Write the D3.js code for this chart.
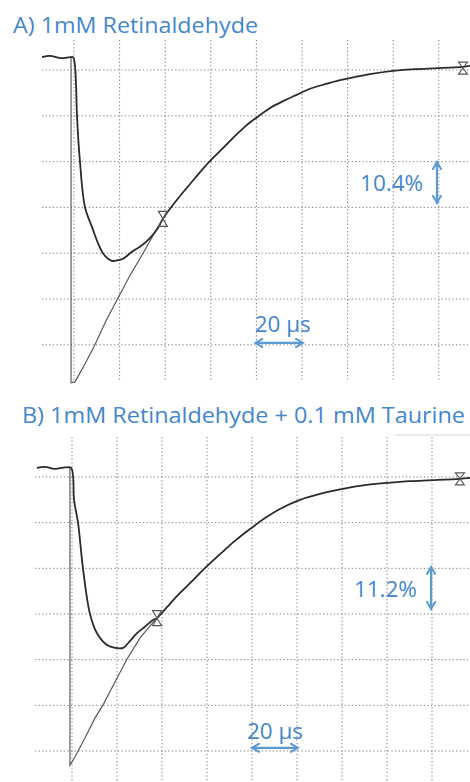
<!DOCTYPE html>
<html>
<head>
<meta charset="utf-8">
<script src="https://cdn.jsdelivr.net/npm/d3@7"></script>
<style>
  html, body { margin: 0; padding: 0; background: #fff; }
  svg { display: block; }
</style>
</head>
<body>
<svg id="chart" width="470" height="782"></svg>
<script>
// ---------- data (time in µs, signal in oscilloscope divisions) ----------
const gridTimes = [0, 20, 40, 60, 80, 100, 120, 140, 160];
const gridLevels = [0, -1, -2, -3, -4, -5, -6];

const titleA = "A) 1mM Retinaldehyde";
const titleB = "B) 1mM Retinaldehyde + 0.1 mM Taurine";
const ampLabelA = "10.4%";
const ampLabelB = "11.2%";
const timeLabel = "20 µs";

const signalA = [
  [-14.0,0.28],[-10.5,0.31],[-6.1,0.26],[-1.7,0.28],[-0.4,0.28],[0.4,0.10],[0.9,-0.33],
  [1.3,-0.98],[2.6,-1.99],[4.8,-2.99],[7.9,-3.43],[10.5,-3.78],[12.7,-4.0],[14.9,-4.12],
  [17.1,-4.17],[19.3,-4.15],[21.5,-4.12],[25.9,-3.95],[28.9,-3.86],[33.3,-3.67],
  [36.8,-3.45],[39.0,-3.25],[42.1,-3.03],[46.5,-2.75],[50.9,-2.49],[55.3,-2.23],
  [59.6,-1.99],[64.9,-1.73],[70.2,-1.46],[75.4,-1.22],[80.3,-1.03],[86.0,-0.83],
  [91.7,-0.68],[97.4,-0.55],[103.5,-0.41],[110.1,-0.31],[116.7,-0.22],[123.3,-0.15],
  [129.8,-0.09],[139.9,-0.02],[149.6,0.02],[159.6,0.04],[170.6,0.07],[173.7,0.09]
];
const fitA = [
  [-1.3,0.28],[-1.3,-6.83],[0.44,-6.81],[4.8,-6.42],[9.2,-6.0],[14.0,-5.48],[19.3,-4.98],
  [24.6,-4.48],[30.3,-4.0],[34.6,-3.62],[39.0,-3.25]
];
const markersA = [[39.0,-3.25],[170.6,0.04]];
const ampArrowA = [[159.2,-2.03],[159.2,-2.88]];
const ampTextA = [153.1,-2.64];
const timeArrowA = [[80.0,-5.96],[100.0,-5.96]];
const timeTextA = [79.3,-5.72];

const signalB = [
  [-15.6,0.20],[-12.0,0.22],[-7.6,0.18],[-3.1,0.21],[-0.4,0.20],[0.5,0.0],[0.9,-0.5],
  [2.7,-1.01],[4.9,-2.01],[8.0,-3.0],[11.1,-3.42],[15.6,-3.68],[19.1,-3.74],[22.7,-3.74],
  [25.8,-3.59],[28.9,-3.42],[32.4,-3.28],[36.0,-3.13],[37.8,-3.09],[42.2,-2.85],
  [48.0,-2.54],[53.8,-2.26],[59.6,-1.97],[65.8,-1.69],[72.4,-1.40],[79.1,-1.14],
  [85.8,-0.90],[92.4,-0.70],[101.3,-0.50],[110.2,-0.37],[120.4,-0.26],[130.2,-0.18],
  [140.0,-0.13],[150.2,-0.09],[160.0,-0.07],[172.4,-0.04],[176.9,-0.02]
];
const fitB = [
  [-0.9,0.20],[-0.9,-6.31],[1.3,-6.13],[5.8,-5.71],[10.2,-5.28],[13.8,-4.99],[19.1,-4.49],
  [24.4,-3.99],[30.2,-3.53],[34.7,-3.26],[37.8,-3.09]
];
const markersB = [[37.8,-3.09],[172.4,-0.04]];
const ampArrowB = [[159.6,-1.99],[159.6,-2.87]];
const ampTextB = [153.3,-2.63];
const timeArrowB = [[80.4,-5.93],[100.0,-5.93]];
const timeTextB = [77.8,-5.74];

// ---------- drawing ----------
const svg = d3.select("#chart");
const BLUE = "#4387cf";
const ARROW = "#5b9bd5";
const FONT = "'Open Sans', 'Noto Sans', sans-serif";

const defs = svg.append("defs");
defs.append("marker").attr("id", "ah").attr("viewBox", "0 0 10 10")
  .attr("refX", 7).attr("refY", 5).attr("markerWidth", 4.6).attr("markerHeight", 4.6)
  .attr("orient", "auto-start-reverse")
  .append("path").attr("d", "M1,1 L8,5 L1,9").attr("fill", "none")
  .attr("stroke", ARROW).attr("stroke-width", 2).attr("stroke-linecap", "round");

function sizeText(sel, target) {
  sel.attr("textLength", target).attr("lengthAdjust", "spacingAndGlyphs");
}

function panel(cfg) {
  const x = d3.scaleLinear().domain([0, 160]).range(cfg.xr);
  const y = d3.scaleLinear().domain([0, -6]).range(cfg.yr);
  const g = svg.append("g");

  // grid
  g.selectAll(".vg").data(gridTimes).join("line")
    .attr("x1", d => x(d)).attr("x2", d => x(d))
    .attr("y1", cfg.gridTop).attr("y2", cfg.gridBottom)
    .attr("stroke", "#808080").attr("stroke-width", 1).attr("stroke-dasharray", "1.3,2.3");
  g.selectAll(".hg").data(gridLevels).join("line")
    .attr("x1", cfg.gridLeft).attr("x2", 470)
    .attr("y1", d => y(d)).attr("y2", d => y(d))
    .attr("stroke", "#808080").attr("stroke-width", 1).attr("stroke-dasharray", "1.3,2.3");

  // fit
  g.append("path").datum(cfg.fit)
    .attr("d", d3.line().x(d => x(d[0])).y(d => y(d[1])).curve(d3.curveLinear))
    .attr("fill", "none").attr("stroke", "#555").attr("stroke-width", 1.15);
  // signal
  g.append("path").datum(cfg.signal)
    .attr("d", d3.line().x(d => x(d[0])).y(d => y(d[1])).curve(d3.curveCatmullRom.alpha(0.5)))
    .attr("fill", "none").attr("stroke", "#2b2b2b").attr("stroke-width", 1.8)
    .attr("stroke-linejoin", "round");

  // hourglass markers
  g.selectAll(".mk").data(cfg.markers).join("path")
    .attr("d", (d, i) => {
      const cx = x(d[0]), cy = y(d[1]);
      const w = 4.5, h = i === 0 ? 7.5 : 6;
      return `M${cx - w},${cy - h}L${cx + w},${cy - h}L${cx - w},${cy + h}L${cx + w},${cy + h}Z`;
    })
    .attr("fill", "none").attr("stroke", "#555").attr("stroke-width", 1.1);

  // title
  const t = svg.append("text").attr("x", cfg.titlePos[0]).attr("y", cfg.titlePos[1])
    .attr("font-family", FONT).attr("font-size", 22).attr("fill", BLUE).text(cfg.title);
  sizeText(t, cfg.titleWidth);

  // amplitude annotation
  g.append("line")
    .attr("x1", x(cfg.ampArrow[0][0])).attr("y1", y(cfg.ampArrow[0][1]))
    .attr("x2", x(cfg.ampArrow[1][0])).attr("y2", y(cfg.ampArrow[1][1]))
    .attr("stroke", ARROW).attr("stroke-width", 2.2)
    .attr("marker-start", "url(#ah)").attr("marker-end", "url(#ah)");
  const at = g.append("text").attr("x", x(cfg.ampText[0]) - 63).attr("y", y(cfg.ampText[1]))
    .attr("font-family", FONT).attr("font-size", 22)
    .attr("fill", BLUE).text(cfg.ampLabel);
  sizeText(at, 63);

  // time annotation
  g.append("line")
    .attr("x1", x(cfg.timeArrow[0][0])).attr("y1", y(cfg.timeArrow[0][1]))
    .attr("x2", x(cfg.timeArrow[1][0])).attr("y2", y(cfg.timeArrow[1][1]))
    .attr("stroke", ARROW).attr("stroke-width", 2.2)
    .attr("marker-start", "url(#ah)").attr("marker-end", "url(#ah)");
  const tt = g.append("text").attr("x", x(cfg.timeText[0])).attr("y", y(cfg.timeText[1]))
    .attr("font-family", FONT).attr("font-size", 22).attr("fill", BLUE).text(timeLabel);
  sizeText(tt, 56);
}

panel({
  xr: [74, 438.8], yr: [70, 344.8], gridTop: 40, gridBottom: 381, gridLeft: 42,
  signal: signalA, fit: fitA, markers: markersA,
  title: titleA, titlePos: [13, 33], titleWidth: 245,
  ampArrow: ampArrowA, ampText: ampTextA, ampLabel: ampLabelA,
  timeArrow: timeArrowA, timeText: timeTextA
});
panel({
  xr: [72, 432], yr: [477, 751], gridTop: 437, gridBottom: 782, gridLeft: 35,
  signal: signalB, fit: fitB, markers: markersB,
  title: titleB, titlePos: [22, 423], titleWidth: 443,
  ampArrow: ampArrowB, ampText: ampTextB, ampLabel: ampLabelB,
  timeArrow: timeArrowB, timeText: timeTextB
});

// faint rule under panel B title
svg.append("line").attr("x1", 395).attr("x2", 470).attr("y1", 435).attr("y2", 435)
  .attr("stroke", "#d6d6d6").attr("stroke-width", 1);
</script>
</body>
</html>
